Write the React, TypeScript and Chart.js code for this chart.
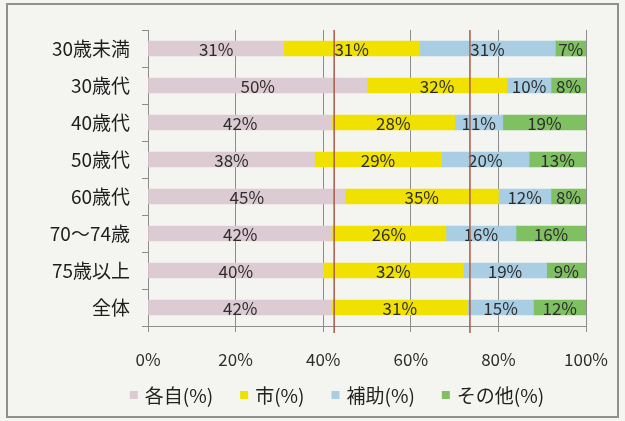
import React, { useEffect, useRef } from "react";
import { Chart, registerables } from "chart.js";

Chart.register(...registerables);

const categories = ["30歳未満", "30歳代", "40歳代", "50歳代", "60歳代", "70～74歳", "75歳以上", "全体"];
const selfPay = [31, 50, 42, 38, 45, 42, 40, 42];
const city = [31, 32, 28, 29, 35, 26, 32, 31];
const subsidy = [31, 10, 11, 20, 12, 16, 19, 15];
const other = [7, 8, 19, 13, 8, 16, 9, 12];
const seriesNames = ["各自(%)", "市(%)", "補助(%)", "その他(%)"];
const seriesColors = ["#dccbd3", "#f0e100", "#a9cde2", "#7fc062"];
const refLineValues = [42.5, 73.5];

const FONT = '"Noto Sans CJK JP", "Noto Sans", sans-serif';

const bgPlugin = {
  id: "bg",
  beforeDraw(chart: any) {
    const { ctx, width, height } = chart;
    ctx.save();
    ctx.fillStyle = "#f4f4f1";
    ctx.fillRect(0, 0, width, height);
    ctx.strokeStyle = "#8f8f8f";
    ctx.lineWidth = 2;
    ctx.strokeRect(7, 4, 611, 413);
    ctx.restore();
  },
};

const labelPlugin = {
  id: "segLabels",
  afterDatasetsDraw(chart: any) {
    const { ctx } = chart;
    ctx.save();
    ctx.font = `17px ${FONT}`;
    ctx.fillStyle = "#2e2e2e";
    ctx.textAlign = "center";
    ctx.textBaseline = "middle";
    chart.data.datasets.forEach((ds: any, di: number) => {
      const meta = chart.getDatasetMeta(di);
      meta.data.forEach((el: any, i: number) => {
        const cx = (el.x + el.base) / 2;
        ctx.fillText(`${ds.data[i]}%`, cx, el.y + 1);
      });
    });
    ctx.restore();
  },
};

const refLinePlugin = {
  id: "refLines",
  afterDatasetsDraw(chart: any) {
    const { ctx, chartArea, scales } = chart;
    ctx.save();
    ctx.strokeStyle = "#a85a48";
    ctx.lineWidth = 1.5;
    refLineValues.forEach((v) => {
      const x = scales.x.getPixelForValue(v);
      ctx.beginPath();
      ctx.moveTo(x, chartArea.top);
      ctx.lineTo(x, chartArea.bottom + 7);
      ctx.stroke();
    });
    ctx.restore();
  },
};

// Legend drawn below the axis (Excel-style spacing)
const legendPlugin = {
  id: "customLegend",
  afterDraw(chart: any) {
    const { ctx } = chart;
    const box = 8;
    const boxGap = 7;
    const itemGap = 27;
    const centerX = 337;
    const cy = 395;
    ctx.save();
    ctx.font = `19px ${FONT}`;
    ctx.textBaseline = "middle";
    ctx.textAlign = "left";
    const items = chart.data.datasets.map((ds: any) => ({
      text: ds.label,
      color: ds.backgroundColor,
      w: box + boxGap + ctx.measureText(ds.label).width,
    }));
    const total = items.reduce((s: number, it: any) => s + it.w, 0) + itemGap * (items.length - 1);
    let x = centerX - total / 2;
    items.forEach((it: any) => {
      ctx.fillStyle = it.color;
      ctx.fillRect(x, cy - box / 2, box, box);
      ctx.fillStyle = "#222222";
      ctx.fillText(it.text, x + box + boxGap, cy + 1);
      x += it.w + itemGap;
    });
    ctx.restore();
  },
};

export default function App() {
  const ref = useRef<HTMLCanvasElement | null>(null);

  useEffect(() => {
    if (!ref.current) return;
    const values = [selfPay, city, subsidy, other];
    const chart = new Chart(ref.current, {
      type: "bar",
      data: {
        labels: categories,
        datasets: values.map((d, i) => ({
          label: seriesNames[i],
          data: d,
          backgroundColor: seriesColors[i],
          borderWidth: 0,
          barThickness: 15,
        })),
      },
      options: {
        indexAxis: "y",
        responsive: false,
        animation: false,
        layout: { padding: { top: 30, left: 0, right: 37, bottom: 45 } },
        scales: {
          x: {
            stacked: true,
            min: 0,
            max: 100,
            ticks: {
              stepSize: 20,
              callback: (v: any) => `${v}%`,
              font: { family: FONT, size: 17 },
              color: "#2e2e2e",
              padding: 17,
              maxRotation: 0,
            },
            grid: { color: "#8c8c8c", lineWidth: 1, tickLength: 6, drawTicks: true },
            border: { display: true, color: "#8c8c8c" },
            afterFit: (s: any) => {
              s.height = 50;
            },
          },
          y: {
            stacked: true,
            ticks: {
              font: { family: FONT, size: 19 },
              color: "#1e1e1e",
              padding: 12,
            },
            grid: { drawOnChartArea: false, offset: true, tickLength: 6, color: "#8c8c8c" },
            border: { display: true, color: "#8c8c8c" },
            afterFit: (s: any) => {
              s.width = 148;
            },
          },
        },
        plugins: {
          legend: { display: false },
          tooltip: { enabled: false },
        },
      },
      plugins: [bgPlugin, labelPlugin, refLinePlugin, legendPlugin],
    });
    return () => chart.destroy();
  }, []);

  return (
    <div style={{ position: "absolute", left: 0, top: 0, width: 625, height: 421 }}>
      <canvas ref={ref} width={625} height={421} style={{ display: "block" }} />
    </div>
  );
}
